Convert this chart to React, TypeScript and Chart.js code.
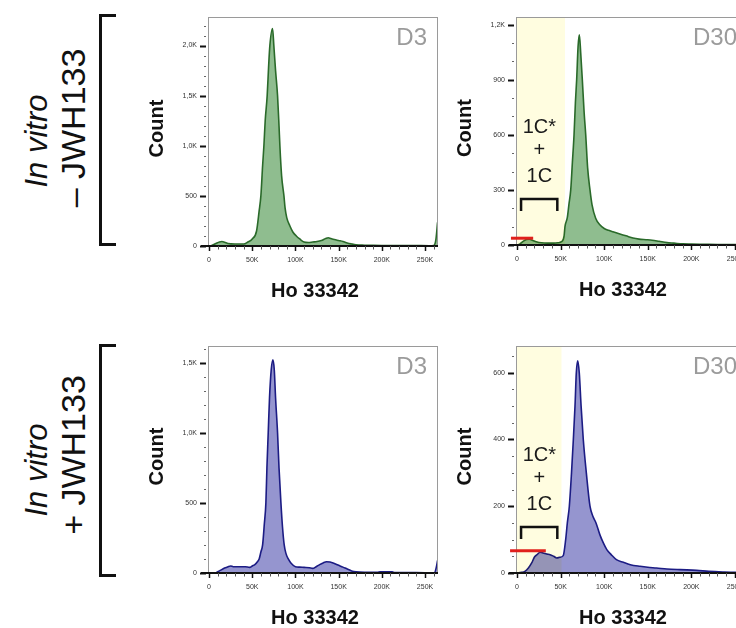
import React, { useEffect, useRef } from "react";
import { Chart, registerables } from "chart.js";

Chart.register(...registerables);

// ---------------- data (Ho 33342 in K, counts) ----------------
// In vitro – JWH133, D3
const minusD3X = [0,3,8,12,15,18,22,30,40,45,50,55,58,60,62,63.5,65,67.3,69,70.4,73.5,75,77,79.3,81,82,84,86.7,88,90,93.6,97,101,105,110,115,120,125,130,135,138,141,145,150,155,160,165,170,180,190,200,220,240,255,260,262.5,264.5];
const minusD3Count = [0,5,25,40,45,38,25,20,20,40,70,150,350,500,800,1000,1250,1500,1800,2000,2170,2000,1750,1500,1200,1000,700,500,380,280,200,140,100,70,40,35,40,45,55,75,83,75,65,55,45,30,20,12,8,6,5,5,4,3,5,60,235];

// In vitro – JWH133, D30
const minusD30X = [0,3,7,11,14,18,22,28,35,42,47,51,54,55,57.7,59.5,61.6,63.5,65.4,67,68.4,70,71.5,73,74.9,77,78.8,81,83.7,86,90.2,95,100,105,110,118,125,133,140,148,155,163,172,180,190,200,215,230,250,265];
const minusD30Count = [0,5,20,30,31,25,18,12,10,10,12,18,50,100,150,220,300,450,600,780,900,1080,1145,1050,900,720,600,420,300,220,146,110,90,80,72,60,50,38,32,29,26,20,13,10,6,5,4,3,3,2];

// In vitro + JWH133, D3
const plusD3X = [0,5,8,12,18,22,25,28,35,42,47,50,53,56,58,60,62,64,65.8,67,68.5,70,72,73.9,75.5,77,79.3,81,83.2,85,87,89,91.7,95,100,105,110,116,120,124,128,132,136,140,145,150,155,160,165,170,180,195,198,205,212,215,230,250,261,263,264.5];
const plusD3Count = [0,0,2,15,35,45,50,45,45,45,40,50,60,80,100,150,200,350,500,750,1000,1250,1450,1520,1450,1250,1000,750,500,330,200,140,100,70,45,42,40,38,33,45,60,72,80,78,68,55,42,28,15,8,5,5,9,9,8,4,3,2,2,40,90];

// In vitro + JWH133, D30
const plusD30X = [0,5,9,13,16.8,20,23,26.4,30,34,38,42,45.5,49,53,55.8,57.7,60,62.5,64.6,66.5,68,69.6,71.4,73.5,76,79.5,83.7,87,90.6,95,99,103,108,114,122,130,141,150,160,172,187,206,220,236,250,265];
const plusD30Count = [0,2,5,15,30,48,55,62,60,57,55,50,45,47,52,100,150,200,300,400,500,600,636,600,500,400,300,200,170,150,115,90,70,55,40,32,25,20,17,15,12,10,8,5,3,2,2];

// tick labels
const xMajorTicks = [0, 50, 100, 150, 200, 250];
const yMajorMinusD3 = [0, 500, 1000, 1500, 2000];
const yMajorMinusD30 = [0, 300, 600, 900, 1200];
const yMajorPlusD3 = [0, 500, 1000, 1500];
const yMajorPlusD30 = [0, 200, 400, 600];

// gate annotations (data units)
const gateMinus = { shadeTo: 55, redFrom: -7, redTo: 18.5, redY: 37, bracketFrom: 4.6, bracketTo: 46.2, textX: 25.6 };
const gatePlus = { shadeTo: 51, redFrom: -8, redTo: 33, redY: 67, bracketFrom: 4.6, bracketTo: 46.2, textX: 25.6 };

// ---------------- styling ----------------
const FONT = '"Liberation Sans", Arial, Helvetica, sans-serif';
const GREEN_LINE = "#2a6a2a";
const GREEN_FILL = "#8fbd8f";
const BLUE_LINE = "#1c1c84";
const BLUE_FILL = "#9595cf";
const GATE_YELLOW = "#fffde0";

type Gate = typeof gateMinus;
type Panel = {
  key: string;
  canvas: { left: number; top: number; width: number; height: number };
  area: { left: number; top: number; right: number; bottom: number };
  xs: number[];
  ys: number[];
  yMax: number;
  yStep: number;
  yMajors: number[];
  line: string;
  fill: string;
  tag: string;
  gate?: Gate;
};

const panels: Panel[] = [
  {
    key: "tl",
    canvas: { left: 120, top: 0, width: 330, height: 320 },
    area: { left: 208, top: 17, right: 438, bottom: 246 },
    xs: minusD3X, ys: minusD3Count, yMax: 2285, yStep: 100, yMajors: yMajorMinusD3,
    line: GREEN_LINE, fill: GREEN_FILL, tag: "D3",
  },
  {
    key: "tr",
    canvas: { left: 440, top: 0, width: 320, height: 320 },
    area: { left: 516, top: 17, right: 748, bottom: 245 },
    xs: minusD30X, ys: minusD30Count, yMax: 1242, yStep: 100, yMajors: yMajorMinusD30,
    line: GREEN_LINE, fill: GREEN_FILL, tag: "D30", gate: gateMinus,
  },
  {
    key: "bl",
    canvas: { left: 120, top: 320, width: 330, height: 308 },
    area: { left: 208, top: 346, right: 438, bottom: 573 },
    xs: plusD3X, ys: plusD3Count, yMax: 1619, yStep: 100, yMajors: yMajorPlusD3,
    line: BLUE_LINE, fill: BLUE_FILL, tag: "D3",
  },
  {
    key: "br",
    canvas: { left: 440, top: 320, width: 320, height: 308 },
    area: { left: 516, top: 346, right: 748, bottom: 573 },
    xs: plusD30X, ys: plusD30Count, yMax: 680, yStep: 50, yMajors: yMajorPlusD30,
    line: BLUE_LINE, fill: BLUE_FILL, tag: "D30", gate: gatePlus,
  },
];

function fmtY(v: number) {
  if (v >= 1000) return (v / 1000).toFixed(1).replace(".", ",") + "K";
  return String(v);
}

function makeDeco(p: Panel) {
  return {
    id: "deco_" + p.key,
    afterDatasetsDraw(chart: any) {
      const { ctx, chartArea: a, scales } = chart;
      const xs = scales.x;
      const ys = scales.y;
      ctx.save();
      if (p.gate) {
        ctx.globalCompositeOperation = "multiply";
        ctx.fillStyle = GATE_YELLOW;
        const xr = xs.getPixelForValue(p.gate.shadeTo);
        ctx.fillRect(a.left, a.top, xr - a.left, a.bottom - a.top);
        ctx.globalCompositeOperation = "source-over";
      }
      ctx.strokeStyle = "#9a9a9a";
      ctx.lineWidth = 1;
      ctx.strokeRect(a.left + 0.5, a.top + 0.5, a.right - a.left - 1, a.bottom - a.top);
      ctx.strokeStyle = "#111";
      ctx.lineWidth = 2;
      ctx.beginPath();
      ctx.moveTo(a.left - 7, a.bottom);
      ctx.lineTo(a.right, a.bottom);
      ctx.stroke();
      xs.ticks.forEach((t: any) => {
        const px = Math.round(xs.getPixelForValue(t.value)) + 0.5;
        const major = xMajorTicks.includes(t.value);
        ctx.strokeStyle = major ? "#111" : "#555";
        ctx.lineWidth = major ? 1.5 : 1;
        ctx.beginPath();
        ctx.moveTo(px, a.bottom);
        ctx.lineTo(px, a.bottom + (major ? 5 : 3.5));
        ctx.stroke();
      });
      ys.ticks.forEach((t: any) => {
        const py = Math.round(ys.getPixelForValue(t.value)) + 0.5;
        const major = p.yMajors.includes(t.value);
        ctx.strokeStyle = major ? "#111" : "#666";
        ctx.lineWidth = major ? 2 : 1;
        ctx.beginPath();
        ctx.moveTo(a.left - (major ? 8 : 4), py);
        ctx.lineTo(a.left - 2, py);
        ctx.stroke();
      });
      if (p.gate) {
        const g = p.gate;
        ctx.strokeStyle = "#e0201c";
        ctx.lineWidth = 3;
        const ry = ys.getPixelForValue(g.redY);
        ctx.beginPath();
        ctx.moveTo(xs.getPixelForValue(g.redFrom), ry);
        ctx.lineTo(xs.getPixelForValue(g.redTo), ry);
        ctx.stroke();
        const bx1 = xs.getPixelForValue(g.bracketFrom);
        const bx2 = xs.getPixelForValue(g.bracketTo);
        const by = a.bottom - 46;
        ctx.strokeStyle = "#111";
        ctx.lineWidth = 2.5;
        ctx.lineJoin = "miter";
        ctx.beginPath();
        ctx.moveTo(bx1, by + 12);
        ctx.lineTo(bx1, by);
        ctx.lineTo(bx2, by);
        ctx.lineTo(bx2, by + 12);
        ctx.stroke();
        const tx = xs.getPixelForValue(g.textX);
        ctx.fillStyle = "#1a1a1a";
        ctx.font = `20px ${FONT}`;
        ctx.textAlign = "center";
        ctx.textBaseline = "middle";
        ctx.fillText("1C*", tx, a.bottom - 118);
        ctx.fillText("+", tx, a.bottom - 95);
        ctx.fillText("1C", tx, a.bottom - 68.5);
      }
      ctx.fillStyle = "#9b9b9b";
      ctx.font = `24px ${FONT}`;
      ctx.textAlign = "right";
      ctx.textBaseline = "middle";
      ctx.fillText(p.tag, a.right - 11, a.top + 21);
      ctx.fillStyle = "#111";
      ctx.font = `bold 20px ${FONT}`;
      ctx.textAlign = "center";
      ctx.textBaseline = "middle";
      ctx.fillText("Ho 33342", a.left + 107, a.bottom + 45);
      ctx.save();
      ctx.translate(a.left - 51, (a.top + a.bottom) / 2 - 3);
      ctx.rotate(-Math.PI / 2);
      ctx.fillText("Count", 0, 0);
      ctx.restore();
      ctx.restore();
    },
  };
}

function PanelChart({ p }: { p: Panel }) {
  const ref = useRef<HTMLCanvasElement | null>(null);
  useEffect(() => {
    if (!ref.current) return;
    const c = p.canvas;
    const padTop = p.area.top - c.top;
    const padRight = c.left + c.width - p.area.right;
    const yWidth = p.area.left - c.left;
    const xHeight = c.top + c.height - p.area.bottom;
    const chart = new Chart(ref.current, {
      type: "line",
      data: {
        datasets: [
          {
            data: p.xs.map((x, i) => ({ x, y: p.ys[i] })),
            borderColor: p.line,
            backgroundColor: p.fill,
            borderWidth: 1.6,
            pointRadius: 0,
            fill: "origin",
            cubicInterpolationMode: "monotone",
          },
        ],
      },
      options: {
        responsive: false,
        animation: false,
        events: [],
        layout: { padding: { top: padTop, right: padRight, left: 0, bottom: 0 } },
        plugins: { legend: { display: false }, tooltip: { enabled: false } },
        scales: {
          x: {
            type: "linear",
            min: -1.2,
            max: 265,
            grid: { display: false, drawTicks: false },
            border: { display: false },
            afterFit: (s: any) => { s.height = xHeight; },
            ticks: {
              stepSize: 10,
              includeBounds: false,
              autoSkip: false,
              maxRotation: 0,
              minRotation: 0,
              padding: 10,
              color: "#333",
              font: { family: FONT, size: 7 },
              callback: (v: any) => (xMajorTicks.includes(v) ? (v === 0 ? "0" : v + "K") : ""),
            },
          },
          y: {
            type: "linear",
            min: 0,
            max: p.yMax,
            grid: { display: false, drawTicks: false },
            border: { display: false },
            afterFit: (s: any) => { s.width = yWidth; },
            ticks: {
              stepSize: p.yStep,
              includeBounds: false,
              autoSkip: false,
              padding: 11,
              color: "#333",
              font: { family: FONT, size: 7 },
              callback: (v: any) => (p.yMajors.includes(v) ? fmtY(v) : ""),
            },
          },
        },
      },
      plugins: [makeDeco(p)],
    });
    return () => chart.destroy();
  }, [p]);
  return (
    <canvas
      ref={ref}
      width={p.canvas.width}
      height={p.canvas.height}
      style={{ position: "absolute", left: p.canvas.left, top: p.canvas.top, width: p.canvas.width, height: p.canvas.height }}
    />
  );
}

function RotatedLine({ cx, cy, size, italic, children }: { cx: number; cy: number; size: number; italic?: boolean; children: React.ReactNode }) {
  return (
    <div
      style={{
        position: "absolute",
        left: cx,
        top: cy,
        transform: "translate(-50%, -50%) rotate(-90deg)",
        whiteSpace: "nowrap",
        fontFamily: FONT,
        fontSize: size,
        fontStyle: italic ? "italic" : "normal",
        lineHeight: 1,
        color: "#111",
      }}
    >
      {children}
    </div>
  );
}

function Bracket({ top, height }: { top: number; height: number }) {
  return (
    <div
      style={{
        position: "absolute",
        left: 99,
        top,
        width: 17,
        height,
        borderLeft: "3px solid #111",
        borderTop: "3px solid #111",
        borderBottom: "3px solid #111",
        boxSizing: "border-box",
      }}
    />
  );
}

export default function App() {
  return (
    <div
      style={{
        position: "fixed",
        left: 0,
        top: 0,
        width: 736,
        height: 628,
        overflow: "hidden",
        background: "#fff",
      }}
    >
      {panels.map((p) => (
        <PanelChart key={p.key} p={p} />
      ))}
      <RotatedLine cx={36} cy={141} size={31} italic>In vitro</RotatedLine>
      <RotatedLine cx={73} cy={128} size={34}>– JWH133</RotatedLine>
      <RotatedLine cx={36} cy={470} size={31} italic>In vitro</RotatedLine>
      <RotatedLine cx={73} cy={455} size={34}>+ JWH133</RotatedLine>
      <Bracket top={14} height={232} />
      <Bracket top={344} height={233} />
    </div>
  );
}
